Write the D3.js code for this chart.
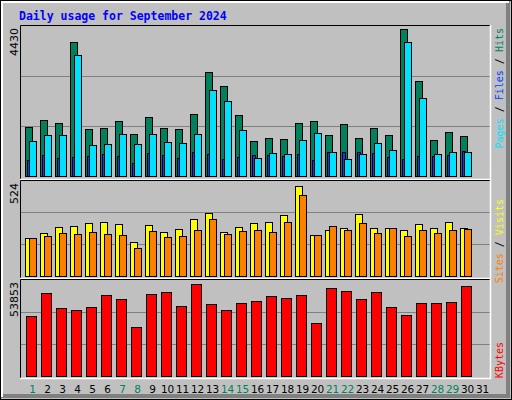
<!DOCTYPE html><html><head><script src="https://cdn.jsdelivr.net/npm/d3@7"></script>
<style>body{margin:0;background:#fff}</style></head><body><svg id="c" width="512" height="400"></svg>
<script>
const days=d3.range(1,32);
const weekend=[1,7,8,14,15,21,22,28,29];
const hits=[1447,1654,1565,3957,1388,1417,1624,1240,1742,1417,1388,1831,3071,2658,1801,1034,1122,1093,1565,1624,1211,1536,1122,1417,1211,4341,2805,1063,1299,1181];
const pages=[1034,1211,1211,3573,915,945,1240,945,1240,1004,975,1240,2540,2215,1358,532,679,650,1063,1270,709,502,650,975,768,3957,2303,650,709,709];
const files=[472,620,532,561,591,650,591,384,679,620,532,709,650,502,561,620,620,591,650,472,709,709,709,679,561,502,591,591,620,738];
const visits=[209,235,268,273,289,294,284,187,278,241,257,310,342,241,268,289,294,332,492,225,251,262,337,262,262,251,284,262,294,262];
const sites=[209,219,235,230,241,230,225,155,246,214,219,251,310,230,246,251,241,294,444,225,273,251,289,235,262,219,251,235,251,257];
const kbytes=[33660,46563,38148,37026,38709,45441,43197,27489,46002,47124,39270,51612,40392,37026,40953,42075,44880,43758,45441,29733,49368,47685,43197,47124,38709,34221,40953,40953,41514,50490];
const maxLabels=["4430","524","53853"];

const svg=d3.select("#c");
svg.append("rect").attr("x",0).attr("y",0).attr("width",512).attr("height",400).attr("fill","#c0c0c0");
svg.append("path").attr("d","M508,1V396H1").attr("fill","none").attr("stroke","#808080").attr("stroke-width",4);
svg.append("rect").attr("x",0.5).attr("y",0.5).attr("width",511).attr("height",399).attr("fill","none").attr("stroke","#000");
svg.append("path").attr("d","M2,397V2H509").attr("fill","none").attr("stroke","#fff").attr("stroke-width",2);
svg.append("text").attr("x",19).attr("y",20).text("Daily usage for September 2024")
 .attr("font-family","DejaVu Sans Mono").attr("font-weight","bold").attr("font-size",11.5).attr("fill","#0000ff");

const x=d3.scaleLinear().domain([1,32]).range([25,490]);
const panels=[{t:25,b:180,base:176,top:26,max:4430},{t:180,b:279,base:276,top:180,max:524},{t:279,b:379,base:376,top:280,max:53853}];
panels.forEach((p,k)=>{
 svg.append("rect").attr("x",20).attr("y",p.t).attr("width",471).attr("height",p.b-p.t).attr("fill","#c0c0c0");
 const y=d3.scaleLinear().domain([0,p.max]).range([p.base,p.top]);
 p.y=y;
 [1/3,2/3].forEach(f=>svg.append("line").attr("x1",21).attr("x2",490).attr("y1",Math.round(y(p.max*f))+0.5).attr("y2",Math.round(y(p.max*f))+0.5).attr("stroke","#808080"));
 svg.append("path").attr("d",`M20.5,${p.b}V${p.t+0.5}H490.5`).attr("fill","none").attr("stroke","#000");
 svg.append("path").attr("d",`M490.5,${p.t}V${p.b-0.5}H20`).attr("fill","none").attr("stroke","#fff").attr("stroke-width",1.5);
 svg.append("text").attr("transform",`translate(18,${p.t+3}) rotate(-90)`).attr("text-anchor","end")
  .attr("font-family","DejaVu Sans").attr("font-size",11).attr("fill","#000").text(maxLabels[k]);
});
function bars(data,p,dx,w,col){
 svg.append("g").selectAll("rect").data(data).join("rect")
  .attr("x",(d,i)=>x(days[i])+dx+0.5).attr("width",w)
  .attr("y",d=>Math.round(p.y(d))+0.5).attr("height",d=>p.base-Math.round(p.y(d)))
  .attr("fill",col).attr("stroke","#000");
}
bars(hits,panels[0],0,7,"#00805c");
bars(files,panels[0],2,3,"#0040ff");
bars(pages,panels[0],4,7,"#00e0ff");
bars(visits,panels[1],0,7,"#ffff00");
bars(sites,panels[1],4,7,"#ff8000");
bars(kbytes,panels[2],1,10,"#ff0000");
svg.append("g").selectAll("text").data(days).join("text")
 .attr("x",d=>x(d)+7.5).attr("y",393).attr("text-anchor","middle")
 .attr("font-family","DejaVu Sans").attr("font-size",10.5).attr("letter-spacing",-0.3)
 .attr("fill",d=>weekend.includes(d)?"#00805c":"#000").text(d=>d);
function side(y,parts){
 const t=svg.append("text").attr("transform",`translate(503,${y}) rotate(-90)`).attr("text-anchor","end")
  .attr("font-family","DejaVu Sans Mono").attr("font-size",10);
 parts.forEach(([s,c])=>t.append("tspan").attr("fill",c).text(s));
}
side(28,[["Pages","#00e0ff"],[" / ","#000"],["Files","#0040ff"],[" / ","#000"],["Hits","#00805c"]]);
side(199,[["Sites","#ff8000"],[" / ","#000"],["Visits","#ffff00"]]);
side(342,[["KBytes","#ff0000"]]);
</script></body></html>
